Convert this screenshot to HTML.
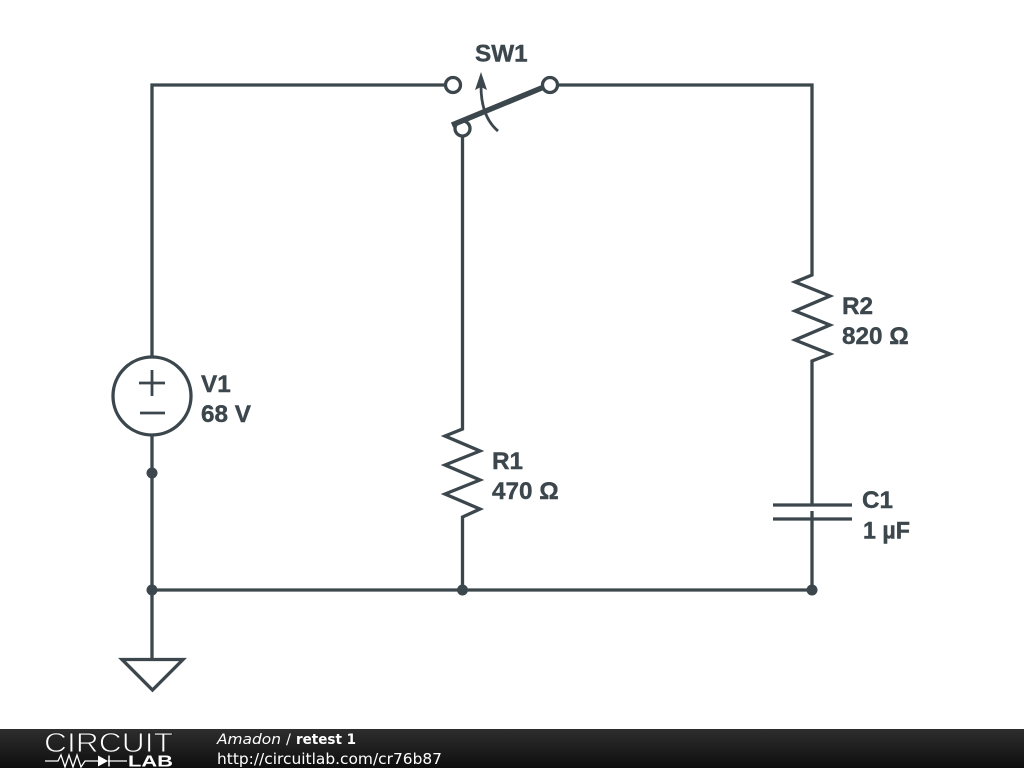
<!DOCTYPE html>
<html><head><meta charset="utf-8"><style>
html,body{margin:0;padding:0;background:#fff;width:1024px;height:768px;overflow:hidden}
svg{display:block}
</style></head><body>
<svg width="1024" height="768" viewBox="0 0 1024 768" xmlns="http://www.w3.org/2000/svg">
<defs><linearGradient id="f" x1="0" y1="0" x2="0" y2="1"><stop offset="0" stop-color="#2e2e2e"/><stop offset="1" stop-color="#0e0e0e"/></linearGradient></defs>
<rect width="1024" height="768" fill="#fff"/>
<g fill="none" stroke="#3c474d" stroke-width="3.300" stroke-linejoin="miter">
<path d="M446 85H152V357M152 435V659"/>
<path d="M557 85H812V275L795 282L830 296L795 311L830 325L795 340L830 354L812 361V505M812 511V590"/>
<path d="M462.500 136V429L445 436L480 451L445 465L480 480L445 494L480 509L462.500 517V590"/>
<path d="M152 590H812"/>
<circle cx="453" cy="85" r="7.500"/><circle cx="550" cy="85" r="7.500"/><circle cx="462.500" cy="128.500" r="7.500"/>
<circle cx="152" cy="396" r="39"/>
<path d="M139 383H165M152 370V396M140 413H165" stroke-width="2.800"/>
<path d="M773 505H852M773 519H852" stroke-width="3.300"/>
<path d="M122 659.500H183L152.500 690Z" stroke-width="3.300"/>
<path d="M452 125L544 87" stroke-width="5.500"/>
<path d="M498 131C486 121 481 105 481 86" stroke-width="2.800"/>
</g>
<path d="M481 72L487 90L481 87L475 90Z" fill="#3c474d"/>
<g fill="#3c474d"><circle cx="152" cy="473" r="5.500"/><circle cx="152" cy="590" r="5.500"/><circle cx="462.500" cy="590" r="5.500"/><circle cx="812" cy="590" r="5.500"/></g>
<g font-family="'Liberation Sans',sans-serif" font-weight="700" font-size="24.300" fill="#3c474d" stroke="#3c474d" stroke-width="0.400">
<text x="475" y="61.500">SW1</text>
<text x="201" y="392">V1</text><text x="201" y="422">68 V</text>
<text x="492" y="469">R1</text><text x="492" y="499">470 Ω</text>
<text x="842" y="314">R2</text><text x="842" y="344">820 Ω</text>
<text x="862" y="508">C1</text><text x="863" y="538.500" textLength="47" lengthAdjust="spacingAndGlyphs">1 µF</text>
</g>
<rect y="729" width="1024" height="39" fill="url(#f)"/>
<text x="44" y="752" font-family="'Liberation Sans',sans-serif" font-size="28" textLength="129" lengthAdjust="spacingAndGlyphs" fill="#fff" stroke="#222" stroke-width="0.900">CIRCUIT</text>
<path d="M45 761H58L61 755L65 767L69 755L73 767L77 755L81 767L85 761H98M108 761H127" fill="none" stroke="#fff" stroke-width="1.300"/>
<path d="M98 755.500L108 761L98 766.500Z" fill="#fff"/>
<path d="M109 755.500V766.500" stroke="#fff" stroke-width="1.500"/>
<text x="128" y="766.500" font-family="'Liberation Sans',sans-serif" font-weight="700" font-size="15.500" textLength="45" lengthAdjust="spacingAndGlyphs" fill="#fff">LAB</text>
<g font-family="'DejaVu Sans',sans-serif" font-size="14.500" fill="#fff">
<text x="217" y="744" font-style="italic" textLength="64" lengthAdjust="spacingAndGlyphs">Amadon</text>
<text x="286" y="744">/</text>
<text x="296" y="744" font-weight="700" textLength="60" lengthAdjust="spacingAndGlyphs">retest 1</text>
<text x="217" y="764" textLength="225" lengthAdjust="spacingAndGlyphs" font-size="15">http://circuitlab.com/cr76b87</text>
</g>
</svg>
</body></html>
